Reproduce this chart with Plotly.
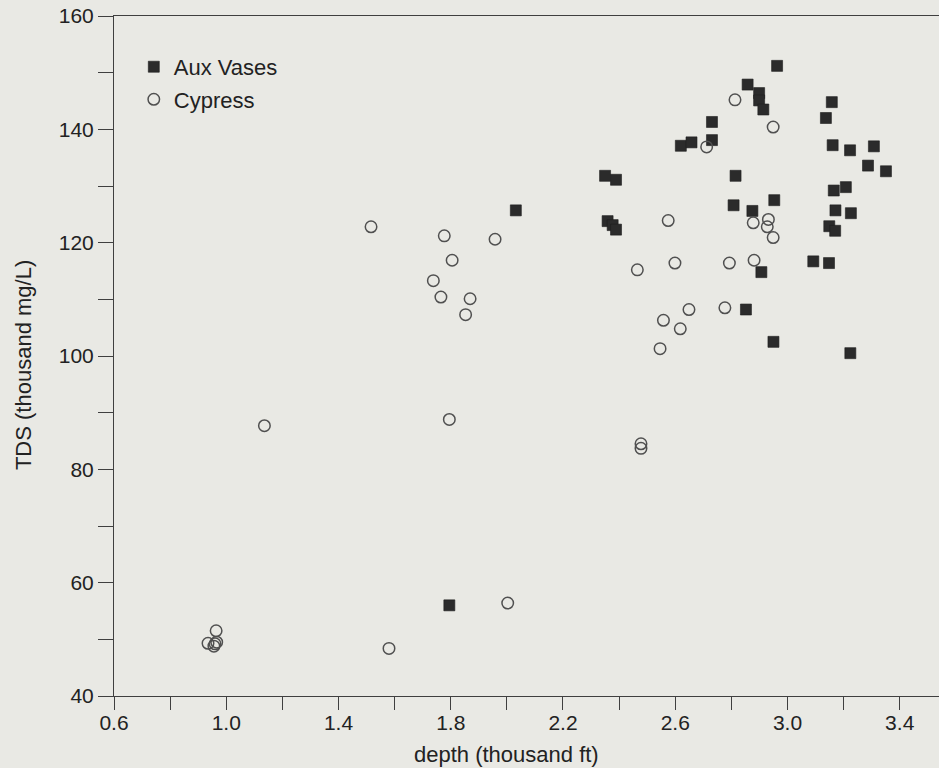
import plotly.graph_objects as go

# Aux Vases sandstone samples: depth (thousand ft) and TDS (thousand mg/L)
aux_depth = [2.963, 2.858, 2.899, 2.899, 2.914, 3.158, 3.137, 2.731, 2.731, 2.620,
             2.658, 3.161, 3.223, 3.308, 3.287, 3.351, 2.350, 2.389, 2.815, 3.165,
             3.208, 2.808, 2.875, 2.953, 3.171, 3.226, 2.359, 2.377, 2.389, 3.149,
             3.170, 3.092, 3.148, 2.907, 2.852, 2.950, 3.224, 2.032, 1.795]
aux_tds = [151.2, 147.9, 146.4, 145.1, 143.5, 144.8, 142.0, 141.3, 138.1, 137.1,
           137.7, 137.2, 136.3, 137.0, 133.6, 132.6, 131.8, 131.1, 131.8, 129.2,
           129.8, 126.6, 125.6, 127.5, 125.7, 125.2, 123.8, 123.1, 122.3, 122.9,
           122.1, 116.7, 116.4, 114.8, 108.2, 102.5, 100.5, 125.7, 56.0]

# Cypress sandstone samples
cyp_depth = [2.813, 2.949, 2.712, 2.575, 2.878, 2.932, 2.928, 2.949, 2.465, 2.599,
             2.793, 2.881, 2.649, 2.777, 2.558, 2.618, 2.546, 1.516, 1.777, 1.958,
             1.805, 1.738, 1.765, 1.869, 1.853, 1.795, 1.136, 2.478, 2.478, 2.003,
             1.580, 0.964, 0.935, 0.960, 0.966, 0.956]
cyp_tds = [145.2, 140.4, 136.9, 123.9, 123.5, 124.1, 122.8, 120.9, 115.2, 116.4,
           116.4, 116.9, 108.2, 108.5, 106.3, 104.8, 101.3, 122.8, 121.2, 120.6,
           116.9, 113.3, 110.4, 110.1, 107.3, 88.8, 87.7, 84.5, 83.7, 56.4,
           48.4, 51.5, 49.3, 49.2, 49.5, 48.8]

x_title = "depth (thousand ft)"
y_title = "TDS (thousand mg/L)"

BG = "#e9e9e4"
INK = "#222222"
AXIS = "#3f3f3f"
FONT = "Liberation Sans, Arial, Helvetica, sans-serif"

fig = go.Figure()

fig.add_trace(go.Scatter(
    x=aux_depth, y=aux_tds, mode="markers", name="Aux Vases",
    marker=dict(symbol="square", size=11, color="#2b2b2b",
                line=dict(color="#1e1e1e", width=0.6)),
    legendgroup="a",
))
fig.add_trace(go.Scatter(
    x=cyp_depth, y=cyp_tds, mode="markers", name="Cypress",
    marker=dict(symbol="circle-open", size=11.5, color="#505050",
                line=dict(width=1.5)),
    legendgroup="b",
))

fig.update_layout(
    width=939, height=768,
    margin=dict(l=114, r=0, t=16, b=72, pad=0),
    paper_bgcolor=BG, plot_bgcolor=BG,
    font=dict(family=FONT, size=21, color=INK),
    showlegend=True,
    legend=dict(
        x=0.024, y=0.956, xanchor="left", yanchor="top",
        bgcolor="rgba(0,0,0,0)", borderwidth=0,
        font=dict(family=FONT, size=22, color=INK),
        tracegroupgap=1, itemsizing="trace",
    ),
    xaxis=dict(
        range=[0.6, 3.54], showgrid=False, zeroline=False,
        showline=True, linecolor=AXIS, linewidth=1, mirror=True,
        ticks="outside", ticklen=13, tickwidth=1, tickcolor=AXIS,
        tick0=0.6, dtick=0.4, tickformat=".1f", ticklabelstandoff=-5,
        minor=dict(ticks="outside", ticklen=13, tickwidth=1, tickcolor=AXIS,
                   tick0=0.6, dtick=0.2, showgrid=False),
        tickfont=dict(size=21, color=INK),
    ),
    yaxis=dict(
        range=[40, 160], showgrid=False, zeroline=False,
        showline=True, linecolor=AXIS, linewidth=1, mirror=False,
        ticks="outside", ticklen=15, tickwidth=1, tickcolor=AXIS,
        tick0=40, dtick=20,
        minor=dict(ticks="outside", ticklen=15, tickwidth=1, tickcolor=AXIS,
                   tick0=40, dtick=10, showgrid=False),
        tickfont=dict(size=21, color=INK),
    ),
    annotations=[
        dict(text=x_title, xref="x", x=2.0, yref="paper", y=-0.064,
             xanchor="center", yanchor="top", showarrow=False,
             font=dict(size=22, color=INK)),
        dict(text=y_title, xref="paper", x=-0.1103, yref="y", y=98.4,
             xanchor="center", yanchor="middle", textangle=-90, showarrow=False,
             font=dict(size=22, color=INK)),
    ],
)

fig.write_html("out.html")
